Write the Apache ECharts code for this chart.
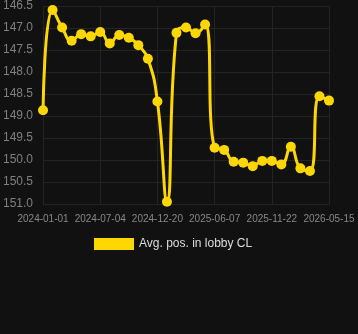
<!DOCTYPE html>
<html><head><meta charset="utf-8">
<script src="https://cdn.jsdelivr.net/npm/echarts@6/dist/echarts.min.js"></script>
<style>html,body{margin:0;padding:0;background:#111111;}#c{width:358px;height:334px;}</style>
</head><body><div id="c"></div>
<script>
var categories = ["2024-01-01","2024-02-01","2024-03-03","2024-04-02","2024-05-03","2024-06-03","2024-07-04","2024-08-01","2024-08-29","2024-09-26","2024-10-24","2024-11-21","2024-12-20","2025-01-17","2025-02-14","2025-03-14","2025-04-11","2025-05-10","2025-06-07","2025-07-05","2025-08-02","2025-08-30","2025-09-27","2025-10-25","2025-11-22","2025-12-20","2026-01-17","2026-02-14","2026-03-14","2026-04-15","2026-05-15"];
var avgPos = [148.87,146.59,146.99,147.29,147.14,147.19,147.09,147.35,147.16,147.22,147.39,147.70,148.67,150.95,147.11,146.99,147.12,146.92,149.72,149.77,150.04,150.06,150.14,150.02,150.02,150.10,149.70,150.19,150.25,148.55,148.65];
var seriesName = "Avg. pos. in lobby CL";
var chart = echarts.init(document.getElementById('c'), null, {renderer:'canvas'});
chart.setOption({
  backgroundColor: '#111111',
  animation: false,
  grid: {left: 40, right: 29, top: 4, height: 200},
  legend: {
    data: [seriesName], top: 233, left: 89,
    icon: 'rect', itemWidth: 40, itemHeight: 12, itemGap: 6,
    textStyle: {color: '#dddddd', fontSize: 12}
  },
  xAxis: {
    type: 'category', data: categories, boundaryGap: false,
    axisLine: {show: false}, axisTick: {show: false},
    axisLabel: {interval: 5, color: '#888888', fontSize: 10, margin: 10},
    splitLine: {show: true, interval: 5, lineStyle: {color: '#242424'}}
  },
  yAxis: {
    type: 'value', inverse: true, min: 146.5, max: 151.0, interval: 0.5,
    axisLine: {show: false}, axisTick: {show: false},
    axisLabel: {color: '#808080', fontSize: 12, margin: 10, formatter: function(v){return v.toFixed(1);}},
    splitLine: {lineStyle: {color: '#242424'}}
  },
  series: [{
    name: seriesName, type: 'line', data: avgPos, smooth: true,
    symbol: 'circle', symbolSize: 10, showAllSymbol: true,
    itemStyle: {color: '#FFD700'},
    lineStyle: {color: '#FFD700', width: 3}
  }]
});
</script></body></html>
